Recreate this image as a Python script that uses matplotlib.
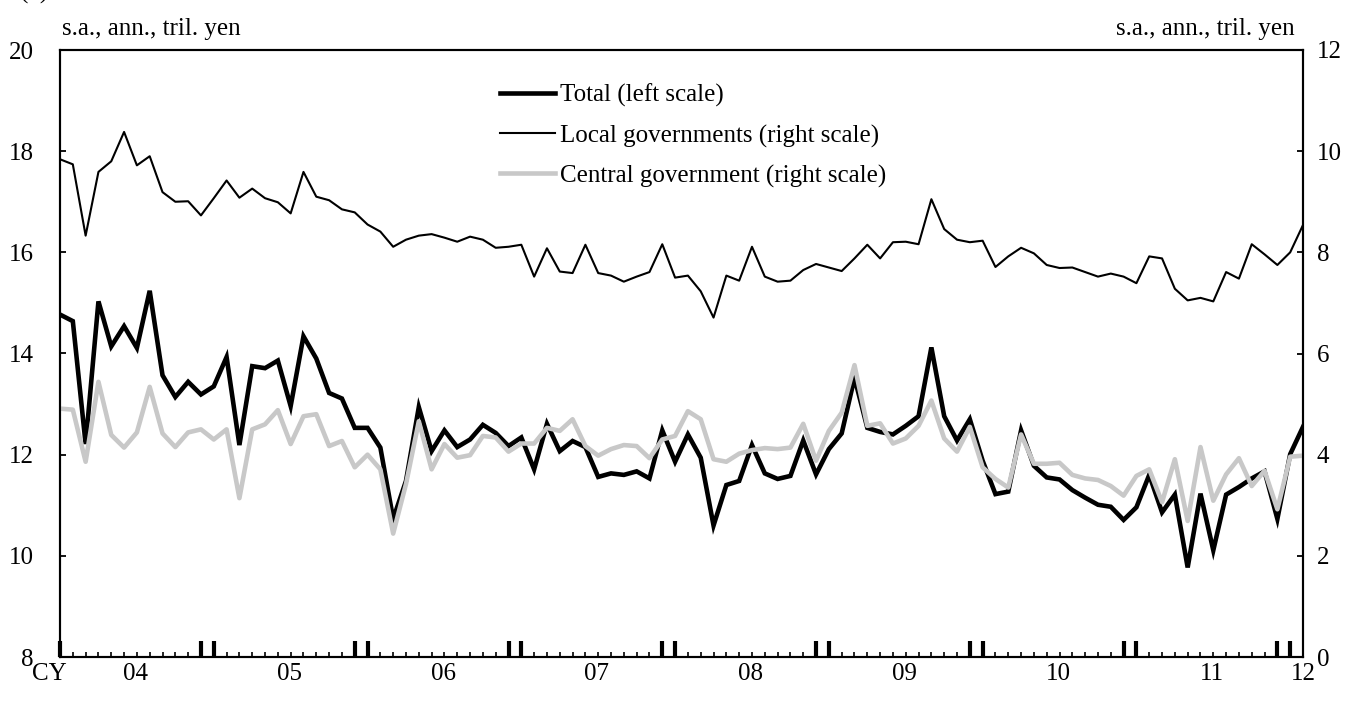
import numpy as np
import matplotlib
matplotlib.use('Agg')
import matplotlib.pyplot as plt
from matplotlib.ticker import FixedLocator

plt.rcParams['font.family'] = ['Liberation Serif', 'DejaVu Serif']

# monthly data, Jan 2004 - Feb 2012, s.a., ann., tril. yen
total = [14.77, 14.64, 12.21, 15.03, 14.14, 14.54, 14.11, 15.24, 13.57, 13.14,
         13.44, 13.19, 13.35, 13.93, 12.19, 13.75, 13.71, 13.86, 12.96, 14.34,
         13.90, 13.22, 13.11, 12.53, 12.53, 12.14, 10.73, 11.48, 12.94, 12.07,
         12.48, 12.15, 12.30, 12.59, 12.43, 12.17, 12.34, 11.71, 12.61, 12.07,
         12.27, 12.15, 11.56, 11.63, 11.60, 11.67, 11.53, 12.48, 11.86, 12.40,
         11.94, 10.60, 11.40, 11.48, 12.19, 11.63, 11.52, 11.58, 12.28, 11.61,
         12.11, 12.42, 13.52, 12.53, 12.45, 12.40, 12.57, 12.76, 14.12, 12.76,
         12.28, 12.70, 11.88, 11.22, 11.27, 12.48, 11.78, 11.55, 11.51, 11.30,
         11.15, 11.01, 10.97, 10.71, 10.96, 11.60, 10.86, 11.21, 9.77, 11.23,
         10.11, 11.21, 11.36, 11.53, 11.67, 10.73, 12.01, 12.55]

local_gov = [9.84, 9.74, 8.33, 9.59, 9.80, 10.38, 9.72, 9.90, 9.19, 9.00,
             9.01, 8.73, 9.07, 9.42, 9.08, 9.26, 9.07, 8.99, 8.77, 9.59,
             9.10, 9.03, 8.85, 8.79, 8.55, 8.41, 8.11, 8.25, 8.33, 8.36,
             8.29, 8.21, 8.31, 8.25, 8.09, 8.11, 8.15, 7.52, 8.08, 7.62,
             7.59, 8.15, 7.59, 7.54, 7.42, 7.52, 7.61, 8.16, 7.50, 7.54,
             7.23, 6.71, 7.54, 7.44, 8.11, 7.52, 7.42, 7.44, 7.65, 7.77,
             7.70, 7.63, 7.88, 8.15, 7.88, 8.20, 8.21, 8.16, 9.05, 8.46,
             8.25, 8.20, 8.23, 7.71, 7.92, 8.09, 7.98, 7.75, 7.69, 7.70,
             7.61, 7.52, 7.58, 7.52, 7.39, 7.92, 7.88, 7.28, 7.05, 7.10,
             7.03, 7.61, 7.48, 8.16, 7.96, 7.75, 8.00, 8.54]

central_gov = [4.91, 4.89, 3.86, 5.44, 4.39, 4.14, 4.44, 5.34, 4.42, 4.15,
               4.44, 4.50, 4.30, 4.50, 3.14, 4.50, 4.60, 4.88, 4.21, 4.76,
               4.80, 4.17, 4.27, 3.75, 4.00, 3.71, 2.44, 3.42, 4.66, 3.71,
               4.21, 3.94, 3.99, 4.37, 4.34, 4.06, 4.22, 4.22, 4.53, 4.47,
               4.70, 4.17, 3.98, 4.11, 4.19, 4.17, 3.93, 4.30, 4.37, 4.86,
               4.70, 3.91, 3.86, 4.02, 4.09, 4.13, 4.11, 4.14, 4.61, 3.88,
               4.47, 4.83, 5.77, 4.57, 4.62, 4.22, 4.32, 4.57, 5.07, 4.32,
               4.06, 4.55, 3.75, 3.52, 3.35, 4.40, 3.82, 3.82, 3.84, 3.60,
               3.53, 3.50, 3.38, 3.19, 3.58, 3.71, 3.06, 3.91, 2.69, 4.15,
               3.09, 3.61, 3.93, 3.38, 3.68, 2.92, 3.96, 3.98]

years = ['04', '05', '06', '07', '08', '09', '10', '11']
labels = ['Total (left scale)', 'Local governments (right scale)',
          'Central government (right scale)']

W, H = 1358, 709
FS = 18


def style_axis(ax):
    for sp in ax.spines.values():
        sp.set_linewidth(1.5)
        sp.set_color('black')


def main():
    months = np.arange(len(total))
    fig = plt.figure(figsize=(W / 100, H / 100), dpi=100)
    ax = fig.add_axes([60 / W, 52 / H, 1243 / W, 607 / H])
    ax2 = ax.twinx()

    # lines
    l1, = ax.plot(months, total, color='black', lw=3.3, solid_joinstyle='miter')
    l2, = ax2.plot(months, local_gov, color='black', lw=1.5)
    l3, = ax2.plot(months, central_gov, color='#c8c8c8', lw=3.3)

    # scales
    ax.set_xlim(0, len(total) - 1)
    ax.set_ylim(8, 20)
    ax2.set_ylim(0, 12)
    ax.set_yticks(np.arange(8, 21, 2))
    ax2.set_yticks(np.arange(0, 13, 2))
    ax.tick_params(axis='y', direction='in', length=4.5, width=1.3,
                   labelsize=FS, pad=19)
    ax2.tick_params(axis='y', direction='in', length=4.5, width=1.3,
                    labelsize=FS, pad=10)

    # month ticks, thick pairs around the turn of each year
    major = [0] + [m for k in range(1, 9) for m in (12 * k - 1, 12 * k)]
    ax.xaxis.set_major_locator(FixedLocator(major))
    ax.xaxis.set_minor_locator(FixedLocator(list(months)))
    ax.tick_params(axis='x', which='major', direction='in', length=11.5,
                   width=3, labelbottom=False)
    ax.tick_params(axis='x', which='minor', direction='in', length=3.5,
                   width=1.2)
    style_axis(ax)
    style_axis(ax2)

    # year labels
    for i, y in enumerate(years):
        ax.annotate(y, (12 * i + 5.9, 0), xycoords=('data', 'axes fraction'),
                    xytext=(0, -4.5), textcoords='offset points',
                    ha='center', va='top', fontsize=FS, annotation_clip=False)
    ax.annotate('12', (len(total) - 1, 0), xycoords=('data', 'axes fraction'),
                xytext=(0, -4.5), textcoords='offset points',
                ha='center', va='top', fontsize=FS, annotation_clip=False)
    ax.annotate('CY', (-0.82, 0), xycoords=('data', 'axes fraction'),
                xytext=(0, -4.5), textcoords='offset points',
                ha='center', va='top', fontsize=FS, annotation_clip=False)

    # unit labels
    fig.text(62 / W, 1 - 35 / H, 's.a., ann., tril. yen', fontsize=FS,
             ha='left', va='baseline')
    fig.text(1295 / W, 1 - 35 / H, 's.a., ann., tril. yen', fontsize=FS,
             ha='right', va='baseline')
    # chart number, cut off at the top edge as in the source
    fig.text(20 / W, 1 + 1 / H, '(2)', fontsize=FS, ha='left', va='baseline')

    # legend
    ax2.legend([l1, l2, l3], labels, loc='upper left',
               bbox_to_anchor=(500 / W, 1 - 84 / H),
               bbox_transform=fig.transFigure, frameon=False, fontsize=FS,
               borderpad=0, borderaxespad=0, handlelength=2.2,
               handletextpad=0.2, labelspacing=0.68)

    fig.savefig('out.png', dpi=100)


main()
